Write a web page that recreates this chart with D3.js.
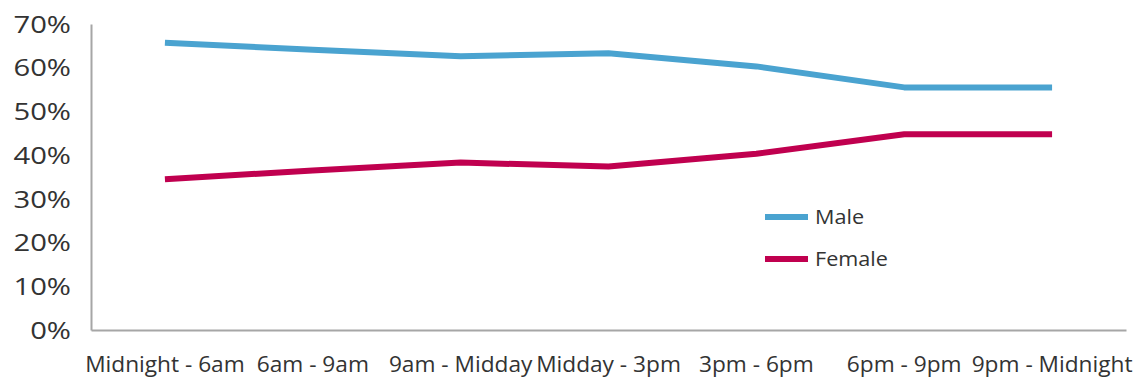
<!DOCTYPE html>
<html>
<head>
<meta charset="utf-8">
<script src="https://cdn.jsdelivr.net/npm/d3@7"></script>
<style>
  html, body { margin: 0; padding: 0; background: #fff; }
  svg { display: block; }
  text { font-family: "Open Sans", sans-serif; fill: #333; }
</style>
</head>
<body>
<svg id="chart" width="1142" height="381"></svg>
<script>
const categories = ["Midnight - 6am", "6am - 9am", "9am - Midday", "Midday - 3pm", "3pm - 6pm", "6pm - 9pm", "9pm - Midnight"];
const maleValues = [65.7, 64.1, 62.6, 63.3, 60.3, 55.5, 55.5];
const femaleValues = [34.5, 36.5, 38.3, 37.4, 40.3, 44.8, 44.8];
const yTickValues = [0, 10, 20, 30, 40, 50, 60, 70];
const seriesNames = ["Male", "Female"];
const seriesColors = ["#4aa3d0", "#c0004f"];

const svg = d3.select("#chart");
const margin = { left: 91, right: 16, top: 24, bottom: 51 };
const W = 1142, H = 381;

function stretch(sel, factor) {
  sel.each(function () {
    const len = this.getComputedTextLength();
    d3.select(this).attr("textLength", len * factor).attr("lengthAdjust", "spacingAndGlyphs");
  });
}

const x = d3.scaleBand().domain(categories).range([margin.left, W - margin.right]);
const y = d3.scaleLinear().domain([0, 70]).range([H - margin.bottom, margin.top]);

// axes
const yAxis = svg.append("g")
  .attr("transform", `translate(${margin.left},0)`)
  .call(d3.axisLeft(y).tickValues(yTickValues).tickFormat(d => d + "%").tickSize(0).tickPadding(20));
yAxis.select(".domain").attr("stroke", "#a6a6a6").attr("stroke-width", 2);
yAxis.selectAll("text").style("font-size", "23px").attr("fill", "#333").attr("dy", "0.36em").call(stretch, 1.27);

const xAxis = svg.append("g")
  .attr("transform", `translate(0,${y(0)})`)
  .call(d3.axisBottom(x).tickSize(0).tickPadding(27));
xAxis.select(".domain").attr("stroke", "#a6a6a6").attr("stroke-width", 2);
xAxis.selectAll("text").style("font-size", "21px").attr("fill", "#333").call(stretch, 1.08);

// lines
const series = [maleValues, femaleValues];
const line = d3.line()
  .x((d, i) => x(categories[i]) + x.bandwidth() / 2)
  .y(d => y(d));

series.forEach((vals, k) => {
  svg.append("path")
    .datum(vals)
    .attr("fill", "none")
    .attr("stroke", seriesColors[k])
    .attr("stroke-width", 6)
    .attr("stroke-linejoin", "round")
    .attr("d", line);
});

// legend
const legend = svg.append("g").attr("transform", "translate(765,217)");
seriesNames.forEach((name, k) => {
  const g = legend.append("g").attr("transform", `translate(0,${k * 42})`);
  g.append("line").attr("x1", 0).attr("x2", 43).attr("y1", 0).attr("y2", 0)
    .attr("stroke", seriesColors[k]).attr("stroke-width", 6);
  g.append("text").attr("x", 50).attr("y", 0).attr("dy", "0.35em")
    .style("font-size", "20px").text(name).call(stretch, 1.08);
});
</script>
</body>
</html>
